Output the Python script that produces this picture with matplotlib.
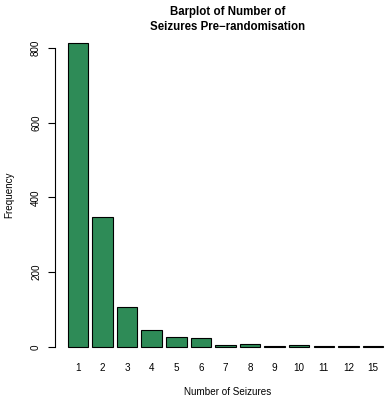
import matplotlib
matplotlib.use("Agg")
import matplotlib.pyplot as plt
import numpy as np

# =========================
# Data
# =========================
seizure_labels = ["1", "2", "3", "4", "5", "6", "7", "8", "9", "10", "11", "12", "15"]
frequencies = [813, 348, 107, 44, 27, 24, 6, 7, 3, 5, 2, 2, 2]

plt.rcParams["font.family"] = ["Liberation Sans", "DejaVu Sans"]

W, H = 385, 397
fig = plt.figure(figsize=(W / 100, H / 100), dpi=100)
# R-style plot region; right edge runs past the figure as in the reference
ax = fig.add_axes([55 / W, (H - 359) / H, 345 / W, (359 - 31) / H])

n = len(frequencies)
centers = 0.7 + 1.2 * np.arange(n)
ax.bar(centers, frequencies, width=1.0, color="#2E8B57", edgecolor="black", linewidth=0.8)

ax.set_xlim(-0.424, 16.424)
top = max(frequencies)
ax.set_ylim(-0.04 * top, 1.04 * top)

for side in ["top", "right", "bottom", "left"]:
    ax.spines[side].set_visible(False)
ax.spines["left"].set_visible(True)
ax.spines["left"].set_bounds(0, 800)
ax.spines["left"].set_linewidth(0.8)

fs = 7.1
ax.set_yticks([0, 200, 400, 600, 800])
ax.set_yticklabels(["0", "200", "400", "600", "800"], rotation=90, va="center", fontsize=fs)
ax.tick_params(axis="y", length=5, width=0.8, pad=5)
ax.set_xticks(centers)
ax.set_xticklabels(seizure_labels, fontsize=fs)
ax.tick_params(axis="x", length=0, pad=3)

ax.set_ylabel("Frequency", fontsize=fs, labelpad=12)

# axis title and main title placed like R's mtext lines
fig.text(227.5 / W, 1 - 392 / H, "Number of Seizures", fontsize=fs, ha="center", va="center")
fig.text(227.5 / W, 1 - 12.5 / H, "Barplot of Number of", fontsize=8.3, fontweight="bold",
         ha="center", va="center")
fig.text(227.5 / W, 1 - 27.5 / H, "Seizures Pre\u2212randomisation", fontsize=8.3, fontweight="bold",
         ha="center", va="center")

fig.savefig("out.png", dpi=100)
